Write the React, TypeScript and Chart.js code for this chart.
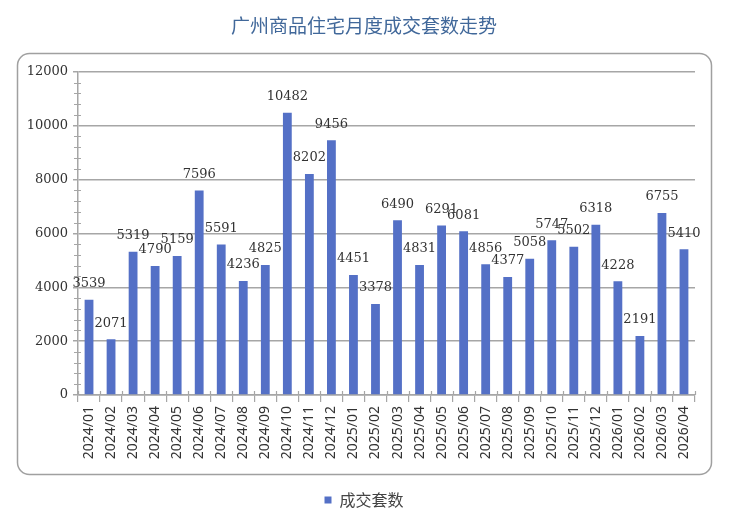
import React, { useRef, useEffect } from 'react';
import { Chart, registerables } from 'chart.js';
import type { Plugin } from 'chart.js';

Chart.register(...registerables);

// Monate und Werte
const months: string[] = [
    '2024/01', '2024/02', '2024/03', '2024/04', '2024/05', '2024/06', '2024/07',
    '2024/08', '2024/09', '2024/10', '2024/11', '2024/12', '2025/01', '2025/02',
    '2025/03', '2025/04', '2025/05', '2025/06', '2025/07', '2025/08', '2025/09',
    '2025/10', '2025/11', '2025/12', '2026/01', '2026/02', '2026/03', '2026/04'
];

const deals: number[] = [
    3539, 2071, 5319, 4790, 5159, 7596, 5591,
    4236, 4825, 10482, 8202, 9456, 4451, 3378,
    6490, 4831, 6291, 6081, 4856, 4377, 5058,
    5747, 5502, 6318, 4228, 2191, 6755, 5410
];

const yTicks: number[] = [0, 2000, 4000, 6000, 8000, 10000, 12000];

const barColor = '#5470c6';
const axisColor = '#a6a6a6';
const serif = '"DejaVu Serif", serif';
const cjk = '"Noto Sans CJK SC", sans-serif';

// Abgerundeter Rahmen um den Diagrammbereich
const framePlugin: Plugin<'bar'> = {
    id: 'frame',
    beforeDraw(chart) {
        const ctx = chart.ctx;
        ctx.save();
        ctx.strokeStyle = '#a0a0a0';
        ctx.lineWidth = 1.5;
        ctx.beginPath();
        ctx.roundRect(17.5, 53.5, 694, 421, 12);
        ctx.stroke();
        ctx.restore();
    }
};

// Kleine Teilstriche an beiden Achsen
const minorTicksPlugin: Plugin<'bar'> = {
    id: 'minorTicks',
    afterDraw(chart) {
        const ctx = chart.ctx;
        const y = chart.scales.y;
        const x = chart.scales.x;
        const axisX = chart.chartArea.left;
        const axisY = chart.chartArea.bottom;
        ctx.save();
        ctx.strokeStyle = axisColor;
        ctx.lineWidth = 1.2;
        ctx.beginPath();
        for (let v = 0; v <= 12000; v += 400) {
            if (v % 2000 === 0) continue;
            const py = Math.round(y.getPixelForValue(v)) + 0.5;
            ctx.moveTo(axisX - 4, py);
            ctx.lineTo(axisX + 3, py);
        }
        const step = x.getPixelForValue(1) - x.getPixelForValue(0);
        for (let i = 0; i <= months.length; i++) {
            const px = Math.round(x.getPixelForValue(i) - step / 2) + 0.5;
            ctx.moveTo(px, axisY - 4);
            ctx.lineTo(px, axisY);
        }
        ctx.stroke();
        ctx.restore();
    }
};

// Werte über den Balken
const valueLabelsPlugin: Plugin<'bar'> = {
    id: 'valueLabels',
    afterDatasetsDraw(chart) {
        const ctx = chart.ctx;
        ctx.save();
        ctx.font = `13px ${serif}`;
        ctx.fillStyle = '#333333';
        ctx.textAlign = 'center';
        ctx.textBaseline = 'middle';
        const meta = chart.getDatasetMeta(0);
        meta.data.forEach((bar: any, i: number) => {
            ctx.fillText(String(deals[i]), bar.x, bar.y - 16);
        });
        ctx.restore();
    }
};

const App: React.FC = () => {
    const canvasRef = useRef<HTMLCanvasElement | null>(null);

    useEffect(() => {
        document.body.style.margin = '0';
        const ctx = canvasRef.current?.getContext('2d');
        if (!ctx) return;

        const chart = new Chart(ctx, {
            type: 'bar',
            data: {
                labels: months,
                datasets: [{
                    label: '成交套数',
                    data: deals,
                    backgroundColor: barColor,
                    barPercentage: 0.4,
                    categoryPercentage: 1
                }]
            },
            options: {
                responsive: false,
                animation: false,
                layout: { padding: { left: 0, right: 12, top: 0, bottom: -5 } },
                plugins: {
                    title: {
                        display: true,
                        text: '广州商品住宅月度成交套数走势',
                        color: '#41689a',
                        font: { family: cjk, size: 19, weight: 'normal' },
                        padding: { top: 14, bottom: 35 }
                    },
                    legend: {
                        position: 'bottom',
                        labels: {
                            boxWidth: 7,
                            boxHeight: 7,
                            color: '#444444',
                            font: { family: cjk, size: 16 },
                            padding: 10
                        }
                    },
                    tooltip: { enabled: false }
                },
                scales: {
                    x: {
                        grid: {
                            drawOnChartArea: false,
                            drawTicks: true,
                            tickLength: 7,
                            color: axisColor,
                            lineWidth: 1.2
                        },
                        border: { color: axisColor, width: 1.5 },
                        ticks: {
                            autoSkip: false,
                            minRotation: 90,
                            maxRotation: 90,
                            padding: 4,
                            color: '#333333',
                            font: { family: '"Noto Sans", sans-serif', size: 14 }
                        },
                        afterFit(scale: any) { scale.height = 87; }
                    },
                    y: {
                        min: 0,
                        max: 12000,
                        afterBuildTicks(scale: any) {
                            scale.ticks = yTicks.map(v => ({ value: v }));
                        },
                        grid: {
                            color: axisColor,
                            lineWidth: 1.5,
                            tickLength: 5
                        },
                        border: { color: axisColor, width: 1.5 },
                        ticks: {
                            padding: 5,
                            color: '#333333',
                            font: { family: serif, size: 13 },
                            callback: (v: any) => String(v)
                        },
                        afterFit(scale: any) { scale.width = 78; }
                    },
                    // leere Achse rechts, hält nur Platz frei
                    yRight: {
                        position: 'right',
                        display: true,
                        grid: { display: false, drawTicks: false },
                        border: { display: false },
                        ticks: { display: false },
                        afterFit(scale: any) { scale.width = 33; }
                    }
                }
            },
            plugins: [framePlugin, minorTicksPlugin, valueLabelsPlugin]
        });

        return () => chart.destroy();
    }, []);

    return (
        <div style={{ width: 740, height: 513, background: '#ffffff' }}>
            <canvas ref={canvasRef} width={740} height={513} />
        </div>
    );
};

export default App;
